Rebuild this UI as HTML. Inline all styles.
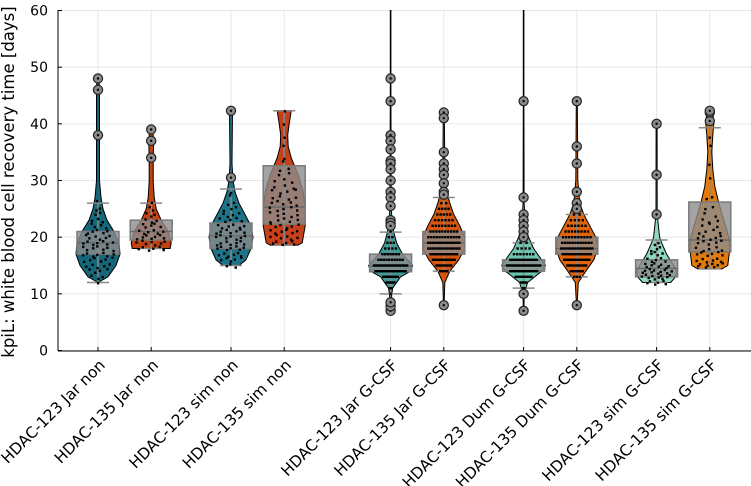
<!DOCTYPE html>
<html><head><meta charset="utf-8"><style>
html,body{margin:0;padding:0;background:#fff;}
svg{display:block;font-family:"DejaVu Sans","Liberation Sans",sans-serif;}
</style></head><body>
<svg id="chart" width="751" height="486" viewBox="0 0 751 486" xmlns="http://www.w3.org/2000/svg">
<defs><clipPath id="plotclip"><rect x="58" y="10" width="693" height="341"/></clipPath></defs>
<g id="grid"></g>
<g id="marks" clip-path="url(#plotclip)"></g>
<g id="axes"></g>
<text transform="translate(14,182) rotate(-90)" text-anchor="middle" font-size="16.5" fill="#000">kpiL: white blood cell recovery time [days]</text>
</svg>
<script>
const categories=["HDAC-123 Jar non","HDAC-135 Jar non","HDAC-123 sim non","HDAC-135 sim non","HDAC-123 Jar G-CSF","HDAC-135 Jar G-CSF","HDAC-123 Dum G-CSF","HDAC-135 Dum G-CSF","HDAC-123 sim G-CSF","HDAC-135 sim G-CSF"];
const catPos=[0,1,2.5,3.5,5.5,6.5,8,9,10.5,11.5];
const yTicks=[0,10,20,30,40,50,60];
const colors=["#15677a","#c14312","#1d7489","#c7401a","#3f9c98","#d4560f","#6cc6b0","#e0650c","#8ed8c0","#e37a0c"];
const whiskLow=[12,18,15,18.6,10,14,11,13,12,14.4];
const q1=[17,19.5,18,22.3,13.9,17,14,17,13,17.4];
const median=[19,21,20.2,25.3,14.9,19,15,18,14.5,19.5];
const q3=[21,23,22.5,32.6,17,21,16,20,16,26.2];
const whiskHigh=[26,26,28.5,42.3,20.9,27,19,24,19.5,39.3];
const outliers=[[48,46,38],[39,37,34],[42.3,30.5],[],[7,7.8,8.5,48,44,38,37,35.5,33.5,33,32,30,28,27,25.5,23,22.5,22],[8,42,41,35,33,32,31,29.5,28,27.5],[7,10,44,27,24,23,22,21,20],[8,44,36,33,28,26,25],[24,31,40],[40.5,42,42.3]];
const violins=[
[[12,0],[13,10],[15,18],[17,22],[19,21],[21,16],[23,9],[25,5],[27,3],[30,1.5],[38,1.5],[46,1.5],[48,1]],
[[18,19],[19,20],[21,17],[23,10],[25,5],[27,3],[30,2],[34,2],[37,2.5],[39,1.5]],
[[15,8],[16,15],[18,20],[20,22],[22,20],[24,14],[26,8],[28,4],[30,2],[33,1],[42,1.5]],
[[18.6,14],[19,18],[22,21],[25,21],[28,19],[31,14],[34,7],[36,4],[38,3.5],[40,5],[42.3,7]],
[[7,0.3],[9,0.6],[11,2],[13,10],[14,20],[15,22],[17,12],[19,6],[21,3],[24,1],[30,0.5],[48,0.3],[70,0.3]],
[[8,0.3],[12,1],[14,6],[16,15],[18,21],[20,21],[22,16],[24,10],[26,6],[28,3],[32,1],[42,0.5]],
[[7,0.3],[10,0.6],[12,4],[14,18],[15,22],[16,18],[18,10],[20,5],[22,2],[26,0.5],[44,0.3],[70,0.3]],
[[8,0.3],[12,1.5],[14,9],[16,17],[18,21],[20,19],[22,13],[24,7],[26,3],[30,1],[44,0.5]],
[[12,14],[13,19],[14,20],[15,17],[17,10],[19,5],[20,3],[24,0.6],[40,0.5]],
[[14.4,12],[15,18],[18,20],[20,19],[23,14],[26,9],[29,5],[32,3],[35,2],[38,3],[40,4],[42.3,3]]];
const dotCounts=[
[[12,1],[13,3],[14,4],[15,5],[16,6],[17,7],[18,7],[19,7],[20,6],[21,5],[22,4],[23,3],[24,2],[25,2],[26,1]],
[[18,6],[19,7],[20,7],[21,6],[22,5],[23,3],[24,3],[25,2],[26,1]],
[[15,3],[16,5],[17,6],[18,7],[19,7],[20,7],[21,7],[22,6],[23,5],[24,4],[25,3],[26,2],[27,1],[28,1]],
[[19,6],[20,6],[21,6],[22,6],[23,5],[24,5],[25,5],[26,5],[27,4],[28,4],[29,3],[30,3],[31,2],[32,2],[33,1],[34,1],[36,1],[38,1],[40,1],[42,1]],
[[10,1],[11,3],[12,6],[13,12],[14,18],[15,18],[16,10],[17,7],[18,4],[19,3],[20,2],[21,1]],
[[14,4],[15,8],[16,11],[17,13],[18,14],[19,14],[20,12],[21,10],[22,8],[23,6],[24,5],[25,4],[26,2],[27,1]],
[[11,2],[12,5],[13,10],[14,16],[15,18],[16,13],[17,7],[18,4],[19,2]],
[[13,3],[14,6],[15,10],[16,13],[17,14],[18,14],[19,12],[20,10],[21,8],[22,6],[23,4],[24,2]],
[[12,6],[13,10],[14,10],[15,8],[16,5],[17,4],[18,3],[19,2]],
[[15,8],[16,6],[17,6],[18,5],[19,5],[20,5],[21,4],[22,3],[23,3],[24,2],[25,2],[27,2],[30,1],[33,1],[36,1],[38,1]]];
const banded=[false,false,false,false,true,true,true,true,false,false];

const NS="http://www.w3.org/2000/svg";
function yS(v){return 350.5-v*(340/60);}
function xS(p){return 98+p*53.2;}
function mk(tag,attrs,parent){const e=document.createElementNS(NS,tag);for(const k in attrs)e.setAttribute(k,attrs[k]);parent.appendChild(e);return e;}
function halfW(vi,v){const pts=violins[vi];if(v<=pts[0][0])return pts[0][1];for(let i=1;i<pts.length;i++){if(v<=pts[i][0]){const a=pts[i-1],b=pts[i];return a[1]+(b[1]-a[1])*(v-a[0])/(b[0]-a[0]);}}return pts[pts.length-1][1];}
const grid=document.getElementById('grid'),marks=document.getElementById('marks'),axes=document.getElementById('axes');
yTicks.forEach(t=>{const l=mk('line',{x1:58,x2:751,y1:yS(t),y2:yS(t),stroke:'#e6e6e6','stroke-width':1},grid);
});
catPos.forEach(p=>{const l=mk('line',{x1:xS(p),x2:xS(p),y1:10,y2:351,stroke:'#e6e6e6','stroke-width':1},grid);
});
categories.forEach((c,i)=>{
 const cx=xS(catPos[i]);
 const g=mk('g',{},marks);
 
 const pts=violins[i];let d='';
 pts.forEach((p,j)=>{d+=(j?'L':'M')+(cx+p[1]).toFixed(1)+','+yS(p[0]).toFixed(1);});
 for(let j=pts.length-1;j>=0;j--){d+='L'+(cx-pts[j][1]).toFixed(1)+','+yS(pts[j][0]).toFixed(1);}
 d+='Z';
 const v=mk('path',{d:d,fill:colors[i],stroke:'#000','stroke-width':1,'stroke-linejoin':'round'},g);
 
 const bw=21;
 const wl=mk('line',{x1:cx,x2:cx,y1:yS(whiskLow[i]),y2:yS(whiskHigh[i]),stroke:'#888','stroke-width':1.5},g);
 
 [whiskLow[i],whiskHigh[i]].forEach(w=>{const cap=mk('line',{x1:cx-11,x2:cx+11,y1:yS(w),y2:yS(w),stroke:'#888','stroke-width':1.5},g);
 });
 const box=mk('rect',{x:cx-bw,y:yS(q3[i]),width:bw*2,height:yS(q1[i])-yS(q3[i]),fill:'rgba(140,140,140,0.8)',stroke:'#7a7a7a','stroke-width':1.5},g);
 
 const med=mk('line',{x1:cx-bw,x2:cx+bw,y1:yS(median[i]),y2:yS(median[i]),stroke:'#6a6a6a','stroke-width':1.5},g);
 
 let k=0;
 dotCounts[i].forEach(([val,n])=>{
  for(let j=0;j<n;j++){k++;
   let yv=val;if(!banded[i])yv=val+(((k*37)%11)/11-0.5)*0.9;
   const w=Math.max(1,halfW(i,yv)*0.8);
   const jx=-w+2*w*(j+0.5)/n+(banded[i]?0:(((k*53)%7)/7-0.5)*2);
   const dot=mk('rect',{x:(cx+jx-1.2).toFixed(1),y:(yS(yv)-1.2).toFixed(1),width:2.4,height:2.4,fill:'#000'},g);
   
  }});
 outliers[i].forEach(o=>{
  const c1=mk('circle',{cx:cx,cy:yS(o),r:4.6,fill:'#8a8a8a',stroke:'#222','stroke-width':1.2},g);
  
  const c2=mk('circle',{cx:cx,cy:yS(o),r:1.2,fill:'#000'},g);
  
 });
});
const ya=mk('line',{x1:58,x2:58,y1:10,y2:351,stroke:'#000','stroke-width':1},axes);

const xa=mk('line',{x1:58,x2:751,y1:351,y2:351,stroke:'#000','stroke-width':1},axes);

yTicks.forEach(t=>{
 const tk=mk('line',{x1:58,x2:62,y1:yS(t),y2:yS(t),stroke:'#000'},axes);
 
 const tx=mk('text',{x:48,y:yS(t)+5,'text-anchor':'end','font-size':14,fill:'#000'},axes);
 tx.textContent=t;
 
});
categories.forEach((c,i)=>{
 const x=xS(catPos[i]);
 const tk=mk('line',{x1:x,x2:x,y1:347,y2:351,stroke:'#000'},axes);
 
 const tx=mk('text',{x:0,y:0,'text-anchor':'end','font-size':15.5,fill:'#000',transform:'translate('+(x+8)+',366) rotate(-45)'},axes);
 tx.textContent=c;
 
});
</script>
</body></html>
